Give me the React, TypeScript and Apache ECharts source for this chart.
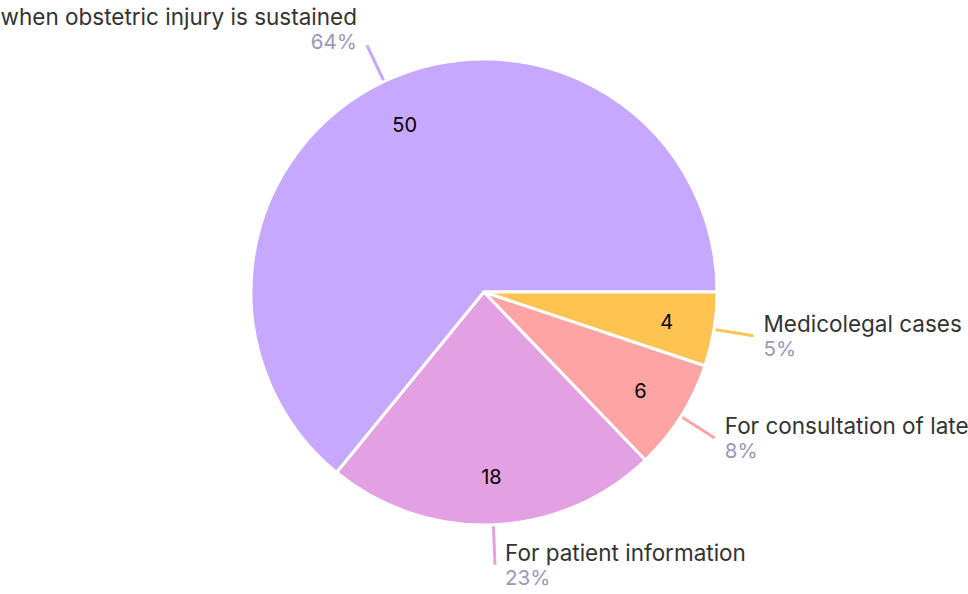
import React, { useEffect, useRef } from "react";
import * as echarts from "echarts";

const categories = [
  "when obstetric injury is sustained",
  "For patient information",
  "For consultation of late",
  "Medicolegal cases",
];
const values = [50, 18, 6, 4];

const FONT = "Inter, 'Noto Sans', sans-serif";

export default function App() {
  const ref = useRef<HTMLDivElement>(null);
  useEffect(() => {
    document.body.style.margin = "0";
    if (!ref.current) return;
    const chart = echarts.init(ref.current, undefined, { renderer: "svg" });
    const data = categories.map((name, i) => ({
      name,
      value: values[i],
      label: i === 0 ? { padding: [0, 0, 32, 0] } : undefined,
    }));
    chart.setOption({
      animation: false,
      color: ["#c6a8fe", "#e3a0e3", "#fea4a4", "#ffc352"],
      series: [
        {
          type: "pie",
          center: [484, 292],
          radius: 233,
          startAngle: 0,
          clockwise: false,
          avoidLabelOverlap: false,
          itemStyle: { borderColor: "#fff", borderWidth: 3 },
          label: {
            show: true,
            position: "outside",
            overflow: "none",
            distanceToLabelLine: 10,
            fontFamily: FONT,
            formatter: (p: any) => `{n|${p.name}}\n{p|${Math.round(p.percent)}%}`,
            rich: {
              n: { fontFamily: FONT, fontSize: 22.5, color: "#333333", lineHeight: 25 },
              p: { fontFamily: FONT, fontSize: 20.5, color: "#9b98b4", lineHeight: 25 },
            },
          },
          labelLine: {
            show: true,
            length: 40,
            length2: 0,
            lineStyle: { width: 3 },
          },
          data,
        },
        {
          type: "pie",
          center: [484, 292],
          radius: [131, 233],
          startAngle: 0,
          clockwise: false,
          silent: true,
          z: 5,
          itemStyle: { color: "transparent", borderWidth: 0 },
          label: {
            show: true,
            position: "inside",
            formatter: "{c}",
            fontFamily: FONT,
            fontSize: 20,
            color: "#000000",
          },
          labelLine: { show: false },
          data: categories.map((name, i) => ({ name, value: values[i] })),
        },
      ],
    });
    return () => chart.dispose();
  }, []);
  return <div ref={ref} style={{ width: 968, height: 594 }} />;
}
